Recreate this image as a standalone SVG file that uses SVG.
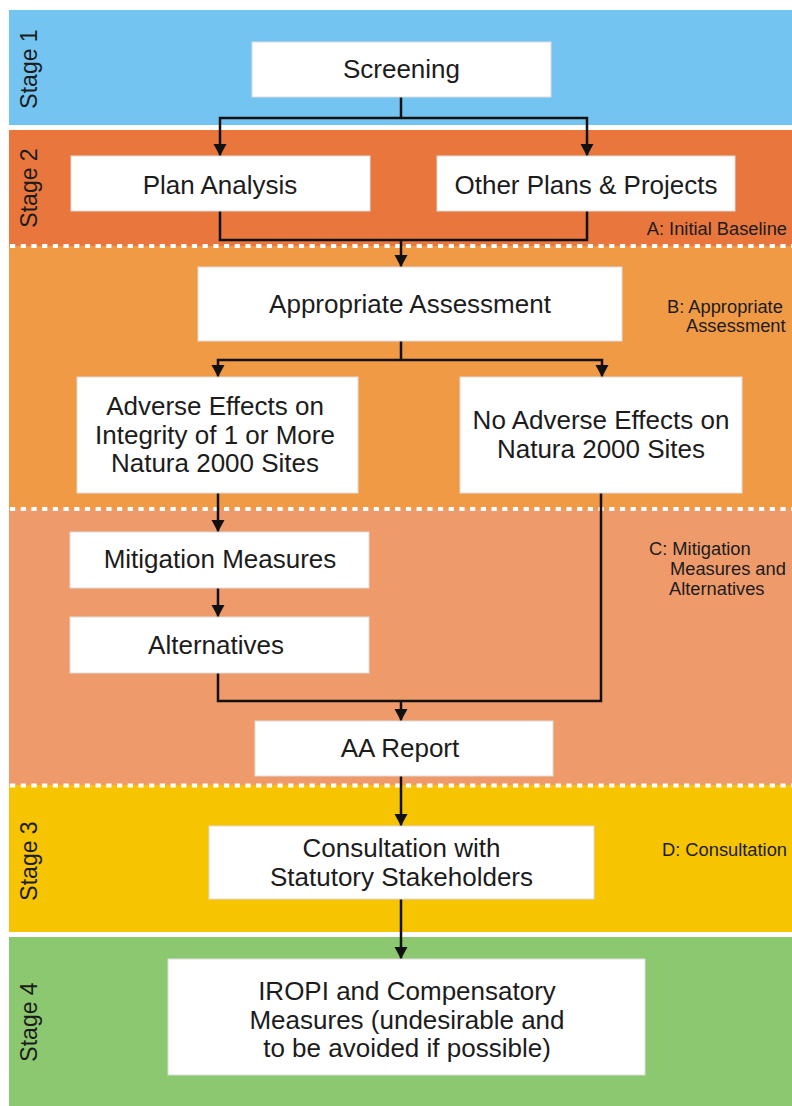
<svg xmlns="http://www.w3.org/2000/svg" width="792" height="1106" viewBox="0 0 792 1106">
  <style>
    .box { fill: #ffffff; stroke: #dcdcdc; stroke-width: 1; }
    .t { font-family: "Liberation Sans", Arial, sans-serif; font-size: 26px; fill: #1c1c1c; text-anchor: middle; }
    .stage { font-family: "Liberation Sans", Arial, sans-serif; font-size: 23px; fill: #1c1c1c; text-anchor: middle; }
    .note { font-family: "Liberation Sans", Arial, sans-serif; font-size: 18.3px; fill: #1c1c1c; }
    .dots { stroke: #ffffff; stroke-width: 4; stroke-dasharray: 5.2 5.5; fill: none; }
    .wire { stroke: #111111; stroke-width: 2.5; fill: none; }
    .arrow { marker-end: url(#head); }
  </style>
  <defs>
    <marker id="head" markerUnits="userSpaceOnUse" markerWidth="14" markerHeight="14" refX="12" refY="6.5" orient="auto">
      <path d="M0,0 L12,6.5 L0,13 Z" fill="#111111"/>
    </marker>
  </defs>

  <!-- background bands -->
  <rect x="0" y="0" width="792" height="1106" fill="#ffffff"/>
  <g id="bands">
    <rect x="9" y="10" width="783" height="115" fill="#73c4f1"/>
    <rect x="9" y="130" width="783" height="117" fill="#e8763d"/>
    <rect x="9" y="246" width="783" height="264" fill="#f09a46"/>
    <rect x="9" y="509" width="783" height="277" fill="#ef9a6b"/>
    <rect x="9" y="785" width="783" height="147" fill="#f6c401"/>
    <rect x="9" y="937" width="783" height="169" fill="#8cc86f"/>
    <line class="dots" x1="10" y1="246" x2="792" y2="246"/>
    <line class="dots" x1="10" y1="509" x2="792" y2="509"/>
    <line class="dots" x1="10" y1="785.5" x2="792" y2="785.5"/>
  </g>

  <!-- stage labels -->
  <g id="stage-labels">
    <text class="stage" transform="translate(37,69) rotate(-90)">Stage 1</text>
    <text class="stage" transform="translate(37,188) rotate(-90)">Stage 2</text>
    <text class="stage" transform="translate(37,861) rotate(-90)">Stage 3</text>
    <text class="stage" transform="translate(37,1022) rotate(-90)">Stage 4</text>
  </g>

  <!-- section notes -->
  <g id="notes">
    <text class="note" x="787" y="235" text-anchor="end">A: Initial Baseline</text>
    <text class="note" x="667" y="313">B: Appropriate</text>
    <text class="note" x="686" y="332">Assessment</text>
    <text class="note" x="649" y="555">C: Mitigation</text>
    <text class="note" x="670" y="575">Measures and</text>
    <text class="note" x="669" y="595">Alternatives</text>
    <text class="note" x="662" y="856">D: Consultation</text>
  </g>

  <!-- connectors -->
  <g id="connectors">
    <path class="wire" d="M401,97 V118"/>
    <path class="wire arrow" d="M401,118 H220 V156"/>
    <path class="wire arrow" d="M401,118 H587 V156"/>
    <path class="wire" d="M220,211 V240 H587 V211"/>
    <path class="wire arrow" d="M401,240 V267"/>
    <path class="wire" d="M401,341 V360"/>
    <path class="wire arrow" d="M401,360 H218 V377"/>
    <path class="wire arrow" d="M401,360 H602 V377"/>
    <path class="wire arrow" d="M218,493 V532"/>
    <path class="wire arrow" d="M218,588 V617"/>
    <path class="wire" d="M218,673 V701 H601 V493"/>
    <path class="wire arrow" d="M401,701 V721"/>
    <path class="wire arrow" d="M401,776 V826"/>
    <path class="wire arrow" d="M401,899 V959"/>
  </g>

  <!-- nodes -->
  <g id="screening">
    <rect class="box" x="252" y="42" width="299" height="55"/>
    <text class="t" x="401.5" y="78">Screening</text>
  </g>
  <g id="plan-analysis">
    <rect class="box" x="71" y="156" width="299" height="55"/>
    <text class="t" x="220" y="194">Plan Analysis</text>
  </g>
  <g id="other-plans">
    <rect class="box" x="437" y="156" width="298" height="55"/>
    <text class="t" x="586" y="194">Other Plans &amp; Projects</text>
  </g>
  <g id="appropriate-assessment">
    <rect class="box" x="198" y="267" width="424" height="74"/>
    <text class="t" x="410" y="313">Appropriate Assessment</text>
  </g>
  <g id="adverse-effects">
    <rect class="box" x="77" y="377" width="281" height="116"/>
    <text class="t" x="215" y="415">Adverse Effects on</text>
    <text class="t" x="215" y="443.5">Integrity of 1 or More</text>
    <text class="t" x="215" y="472">Natura 2000 Sites</text>
  </g>
  <g id="no-adverse-effects">
    <rect class="box" x="460" y="377" width="282" height="116"/>
    <text class="t" x="601" y="429">No Adverse Effects on</text>
    <text class="t" x="601" y="458">Natura 2000 Sites</text>
  </g>
  <g id="mitigation">
    <rect class="box" x="70" y="532" width="299" height="56"/>
    <text class="t" x="220" y="568">Mitigation Measures</text>
  </g>
  <g id="alternatives">
    <rect class="box" x="70" y="617" width="299" height="56"/>
    <text class="t" x="216" y="654">Alternatives</text>
  </g>
  <g id="aa-report">
    <rect class="box" x="255" y="721" width="298" height="55"/>
    <text class="t" x="400" y="757">AA Report</text>
  </g>
  <g id="consultation">
    <rect class="box" x="209" y="826" width="385" height="73"/>
    <text class="t" x="401.5" y="857">Consultation with</text>
    <text class="t" x="401.5" y="886">Statutory Stakeholders</text>
  </g>
  <g id="iropi">
    <rect class="box" x="168" y="959" width="477" height="116"/>
    <text class="t" x="407" y="1000">IROPI and Compensatory</text>
    <text class="t" x="407" y="1028.5">Measures (undesirable and</text>
    <text class="t" x="407" y="1057">to be avoided if possible)</text>
  </g>
</svg>
